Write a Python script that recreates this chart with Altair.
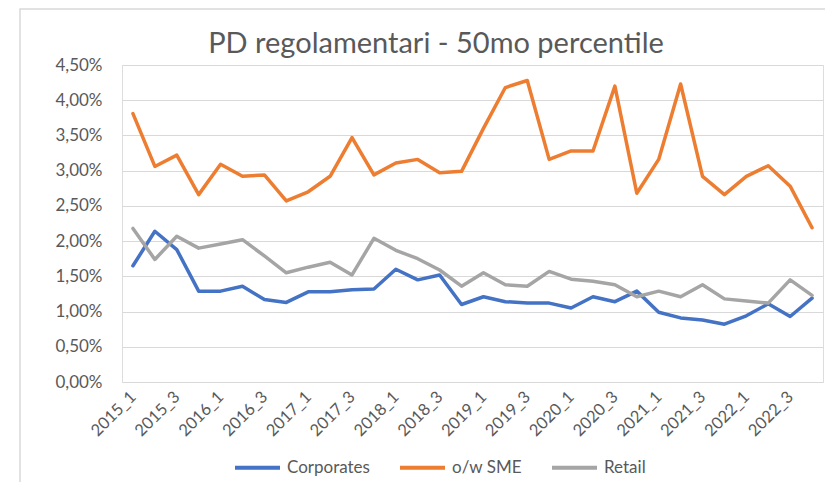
import altair as alt
import pandas as pd

quarters = [
    "2015_1", "2015_2", "2015_3", "2015_4",
    "2016_1", "2016_2", "2016_3", "2016_4",
    "2017_1", "2017_2", "2017_3", "2017_4",
    "2018_1", "2018_2", "2018_3", "2018_4",
    "2019_1", "2019_2", "2019_3", "2019_4",
    "2020_1", "2020_2", "2020_3", "2020_4",
    "2021_1", "2021_2", "2021_3", "2021_4",
    "2022_1", "2022_2", "2022_3", "2022_4",
]
shown_labels = quarters[::2]

corporates = [1.65, 2.14, 1.88, 1.29, 1.29, 1.36, 1.17, 1.13,
              1.28, 1.28, 1.31, 1.32, 1.60, 1.45, 1.52, 1.10,
              1.21, 1.14, 1.12, 1.12, 1.05, 1.21, 1.14, 1.29,
              0.99, 0.91, 0.88, 0.82, 0.94, 1.11, 0.93, 1.19]
sme = [3.81, 3.06, 3.22, 2.66, 3.09, 2.92, 2.94, 2.57,
       2.70, 2.92, 3.47, 2.94, 3.11, 3.16, 2.97, 2.99,
       3.60, 4.18, 4.28, 3.16, 3.28, 3.28, 4.20, 2.68,
       3.16, 4.23, 2.92, 2.66, 2.92, 3.07, 2.78, 2.19]
retail = [2.18, 1.74, 2.07, 1.90, 1.96, 2.02, 1.79, 1.55,
          1.63, 1.70, 1.52, 2.04, 1.87, 1.75, 1.59, 1.36,
          1.55, 1.38, 1.36, 1.57, 1.46, 1.43, 1.38, 1.21,
          1.29, 1.21, 1.38, 1.18, 1.15, 1.12, 1.45, 1.23]

series_names = ["Corporates", "o/w SME", "Retail"]
series_colors = ["#4472C4", "#ED7D31", "#A5A5A5"]
y_ticks = [0, 0.005, 0.01, 0.015, 0.02, 0.025, 0.03, 0.035, 0.04, 0.045]
title_text = "PD regolamentari - 50mo percentile"

rows = []
for name, vals in zip(series_names, [corporates, sme, retail]):
    for q, v in zip(quarters, vals):
        rows.append({"quarter": q, "series": name, "value": v / 100.0})
df = pd.DataFrame(rows)

FONT = "Lato"
TXT = "#595959"

one = alt.Chart(pd.DataFrame({"t": [title_text]}))

frame = one.mark_rect(
    fill="white", fillOpacity=0, stroke="#d9d9d9", strokeWidth=1.5
).encode(
    x=alt.value(-102), x2=alt.value(900),
    y=alt.value(-56), y2=alt.value(600),
)

title = one.mark_text(
    font=FONT, fontSize=29, color=TXT, align="center", baseline="alphabetic"
).encode(
    text="t:N", x=alt.value(314), y=alt.value(-12),
)

lines = alt.Chart(df).mark_line(
    strokeWidth=3.5, strokeCap="round", strokeJoin="round"
).encode(
    x=alt.X("quarter:N", sort=quarters, title=None,
            scale=alt.Scale(padding=0.5),
            axis=alt.Axis(values=shown_labels, labelAngle=-45, labelAlign="right",
                          labelBaseline="middle", labelPadding=12, labelFontSize=16.5,
                          labelFont=FONT, labelColor=TXT, domain=False, ticks=False,
                          grid=False)),
    y=alt.Y("value:Q", title=None,
            scale=alt.Scale(domain=[0, 0.045], nice=False),
            axis=alt.Axis(values=y_ticks,
                          labelExpr="replace(format(datum.value, '.2%'), '.', ',')",
                          labelFontSize=17, labelFont=FONT, labelColor=TXT,
                          labelPadding=20, domain=False, ticks=False,
                          gridColor="#d9d9d9", gridWidth=1.2)),
    color=alt.Color("series:N",
                    scale=alt.Scale(domain=series_names, range=series_colors),
                    legend=alt.Legend(title=None, orient="none", direction="horizontal",
                                      legendX=111, legendY=378,
                                      symbolType="stroke", symbolSize=2025,
                                      symbolStrokeWidth=4, labelFontSize=17,
                                      labelFont=FONT, labelColor=TXT,
                                      labelOffset=5, columnPadding=22)),
    order=alt.Order("series:N"),
)

chart = alt.layer(frame, title, lines).properties(
    width=701, height=317,
    autosize=alt.AutoSizeParams(type="none"),
    padding={"left": 114, "top": 57, "right": 2, "bottom": 100},
).configure_view(stroke=None).configure(background="white")

chart.save("out.html", embed_options={"renderer": "svg", "actions": False})
